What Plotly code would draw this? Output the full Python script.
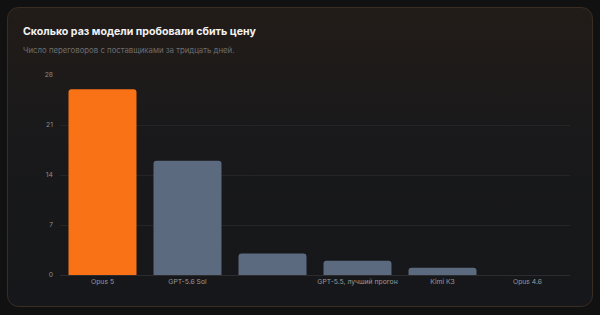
import plotly.graph_objects as go
import base64

categories = ["Opus 5", "GPT-5.6 Sol", " ", "GPT-5.5, лучший прогон", "Kimi K3", "Opus 4.6"]
values = [26, 16, 3, 2, 1, 0]
bar_colors = ["#F97316", "#5B6A7E", "#5B6A7E", "#5B6A7E", "#5B6A7E", "#5B6A7E"]
y_ticks = [0, 7, 14, 21, 28]
title = "Сколько раз модели пробовали сбить цену"
subtitle = "Число переговоров с поставщиками за тридцать дней."

W, H = 600, 315
ML, MR, MT, MB = 60, 30, 75, 40
PW, PH = W - ML - MR, H - MT - MB

def px_x(px):
    return (px - ML) / PW

def px_y(py):
    return (H - MB - py) / PH

# card background as svg image
cx0, cy0, cx1, cy1 = 7, 7, 593, 307
cw, ch = cx1 - cx0, cy1 - cy0
svg = f'''<svg xmlns="http://www.w3.org/2000/svg" width="{cw}" height="{ch}" viewBox="0 0 {cw} {ch}">
<defs><linearGradient id="g" x1="0" y1="0" x2="0" y2="1">
<stop offset="0" stop-color="#221c18"/><stop offset="0.45" stop-color="#19191b"/><stop offset="1" stop-color="#16171a"/>
</linearGradient></defs>
<rect x="0.5" y="0.5" width="{cw-1}" height="{ch-1}" rx="11" ry="11" fill="url(#g)" stroke="#3a2d23" stroke-width="1"/>
</svg>'''
src = "data:image/svg+xml;base64," + base64.b64encode(svg.encode()).decode()

fig = go.Figure()
fig.add_trace(go.Bar(
    x=categories, y=values,
    marker=dict(color=bar_colors, line=dict(width=0)),
    width=0.8,
    hoverinfo="skip",
))

fig.update_layout(
    width=W, height=H,
    margin=dict(l=ML, r=MR, t=MT, b=MB),
    paper_bgcolor="#111111",
    plot_bgcolor="rgba(0,0,0,0)",
    font=dict(family="Inter", color="#9a9a9a", size=7),
    showlegend=False,
    barcornerradius=3,
    images=[dict(
        source=src, xref="paper", yref="paper",
        x=px_x(cx0), y=px_y(cy0), sizex=cw / PW, sizey=ch / PH,
        xanchor="left", yanchor="top", sizing="stretch", layer="below",
    )],
    annotations=[
        dict(text=f"<b>{title}</b>", xref="paper", yref="paper",
             x=px_x(21), y=px_y(31), xanchor="left", yanchor="middle",
             showarrow=False, font=dict(family="Inter", size=10.6, color="#f2f2f2")),
        dict(text=subtitle, xref="paper", yref="paper",
             x=px_x(21), y=px_y(50), xanchor="left", yanchor="middle",
             showarrow=False, font=dict(family="Inter", size=7.8, color="#6e6e6e")),
    ],
    xaxis=dict(
        type="category", showgrid=False, showline=True, linecolor="#2c2c2e", linewidth=1,
        ticks="", tickfont=dict(size=6.8, color="#9a9a9a"), fixedrange=True,
    ),
    yaxis=dict(
        range=[0, 28], tickvals=y_ticks, showgrid=True, gridcolor="#252527", gridwidth=1,
        zeroline=False, showline=False, ticks="", ticklabelstandoff=6,
        tickfont=dict(size=6.8, color="#8a8a8a"), fixedrange=True,
    ),
)

fig.write_html("out.html", config={"displayModeBar": False})
